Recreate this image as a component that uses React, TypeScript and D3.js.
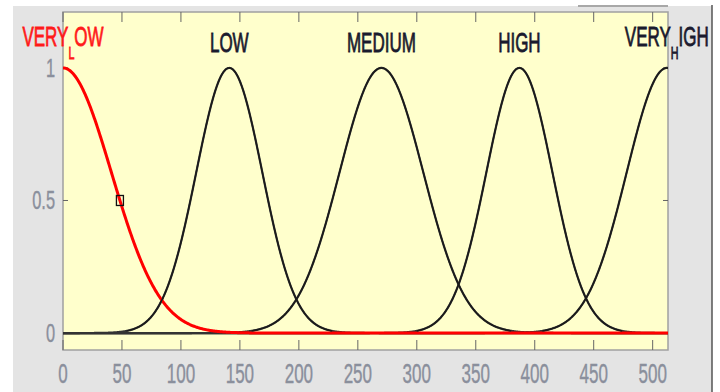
import React from 'react';
import * as d3 from 'd3';

// Membership functions (Gaussian: center, sigma)
const mfNames = ['VERY_LOW', 'LOW', 'MEDIUM', 'HIGH', 'VERY_HIGH'];
const mfCenters = [0, 141, 270, 387, 512];
const mfSigmas = [41, 28, 35.5, 28, 34];
const selectedIndex = 0;
const xDomain = [0, 513];
const xTicks = [0, 50, 100, 150, 200, 250, 300, 350, 400, 450, 500];
const yTicks = [0, 0.5, 1];
const yTickLabels = ['0', '0.5', '1'];

const W = 720;
const H = 392;
const plot = { left: 63, right: 668, top: 12, bottom: 350 };
const FONT = '"Liberation Sans", Arial, sans-serif';
const SX = 0.63;

const gauss = (x: number, c: number, s: number) => Math.exp(-((x - c) * (x - c)) / (2 * s * s));

export default function App() {
  const x = d3.scaleLinear().domain(xDomain).range([plot.left, plot.right]);
  const y = d3.scaleLinear().domain([-0.064, 1.211]).range([plot.bottom, plot.top]);
  const xs = d3.range(xDomain[0], xDomain[1] + 0.001, 0.5);
  const line = d3
    .line<[number, number]>()
    .x((d) => x(d[0]))
    .y((d) => y(d[1]));

  const curves = mfNames.map((_, i) => xs.map((v) => [v, gauss(v, mfCenters[i], mfSigmas[i])] as [number, number]));
  const topCurves = curves.map((pts) => pts.filter((p) => p[1] > 0.008));

  const selHalf = mfCenters[selectedIndex] + mfSigmas[selectedIndex] * Math.sqrt(2 * Math.log(2));

  const renderLabel = (name: string, i: number) => {
    const cx = x(mfCenters[i]);
    const color = i === selectedIndex ? '#ff1a1a' : '#1a1a2e';
    const parts = name.split('_');
    const common = {
      textAnchor: 'middle' as const,
      fontFamily: FONT,
      fontSize: 27,
      fill: color,
      stroke: color,
      strokeWidth: 0.8,
    };
    if (parts.length === 2) {
      const first = parts[0];
      const sub = parts[1].charAt(0);
      const rest = parts[1].slice(1);
      return (
        <text key={name} transform={`translate(${cx},46) scale(${SX},1)`} {...common}>
          <tspan>{first}</tspan>
          <tspan fontSize={17} dy={13}>{sub}</tspan>
          <tspan dy={-13}>{rest}</tspan>
        </text>
      );
    }
    return (
      <text key={name} transform={`translate(${cx},51.5) scale(${SX},1)`} {...common}>
        {name}
      </text>
    );
  };

  return (
    <svg width={W} height={H} style={{ position: 'absolute', left: 0, top: 0, background: '#ffffff' }}>
      <defs>
        <clipPath id="plotclip">
          <rect x={plot.left} y={plot.top} width={plot.right - plot.left} height={plot.bottom - plot.top} />
        </clipPath>
      </defs>
      {/* figure background */}
      <rect x={13} y={6} width={699} height={H - 6} fill="#e4e4e4" />
      <line x1={712} y1={5} x2={712} y2={H} stroke="#555" strokeWidth={1.5} />
      <line x1={578} y1={6} x2={668} y2={6} stroke="#a8a8a8" strokeWidth={2} />
      {/* plot area */}
      <rect
        x={plot.left}
        y={plot.top}
        width={plot.right - plot.left}
        height={plot.bottom - plot.top}
        fill="#ffffcc"
        stroke="#a0a0a0"
        strokeWidth={1.5}
      />
      {/* ticks */}
      {xTicks.map((t) => (
        <g key={'xt' + t}>
          <line x1={x(t)} x2={x(t)} y1={plot.top} y2={plot.top + 10} stroke="#666" strokeWidth={1} />
          <line x1={x(t)} x2={x(t)} y1={plot.bottom} y2={plot.bottom - 10} stroke="#666" strokeWidth={1} />
          <text
            transform={`translate(${x(t)},383) scale(${SX},1)`}
            textAnchor="middle"
            fontFamily={FONT}
            fontSize={27}
            fill="#8a8f9c"
            stroke="#8a8f9c"
            strokeWidth={0.4}
          >
            {t}
          </text>
        </g>
      ))}
      {yTicks.map((t, i) => (
        <g key={'yt' + t}>
          <line x1={plot.left} x2={plot.left + 5} y1={y(t)} y2={y(t)} stroke="#666" strokeWidth={1} />
          <line x1={plot.right} x2={plot.right - 5} y1={y(t)} y2={y(t)} stroke="#666" strokeWidth={1} />
          <text
            transform={`translate(55,${y(t) + 9}) scale(${SX},1)`}
            textAnchor="end"
            fontFamily={FONT}
            fontSize={26}
            fill="#8a8f9c"
            stroke="#8a8f9c"
            strokeWidth={0.4}
          >
            {yTickLabels[i]}
          </text>
        </g>
      ))}
      <g clipPath="url(#plotclip)">
        {/* black curves full */}
        {curves.map((pts, i) =>
          i === selectedIndex ? null : (
            <path key={'c' + i} d={line(pts) || ''} fill="none" stroke="#333" strokeWidth={2.2} />
          )
        )}
        {/* selected curve */}
        <path d={line(curves[selectedIndex]) || ''} fill="none" stroke="#ff0000" strokeWidth={3} />
        {/* black curves on top where non-zero */}
        {topCurves.map((pts, i) =>
          i === selectedIndex ? null : (
            <path key={'t' + i} d={line(pts) || ''} fill="none" stroke="#1a1a1a" strokeWidth={1.5} />
          )
        )}
        {/* selection marker */}
        <rect
          x={x(selHalf) - 3.5}
          y={y(0.5) - 5}
          width={7}
          height={10}
          fill="none"
          stroke="#111"
          strokeWidth={1.3}
        />
      </g>
      {/* labels */}
      {mfNames.map((n, i) => renderLabel(n, i))}
    </svg>
  );
}
